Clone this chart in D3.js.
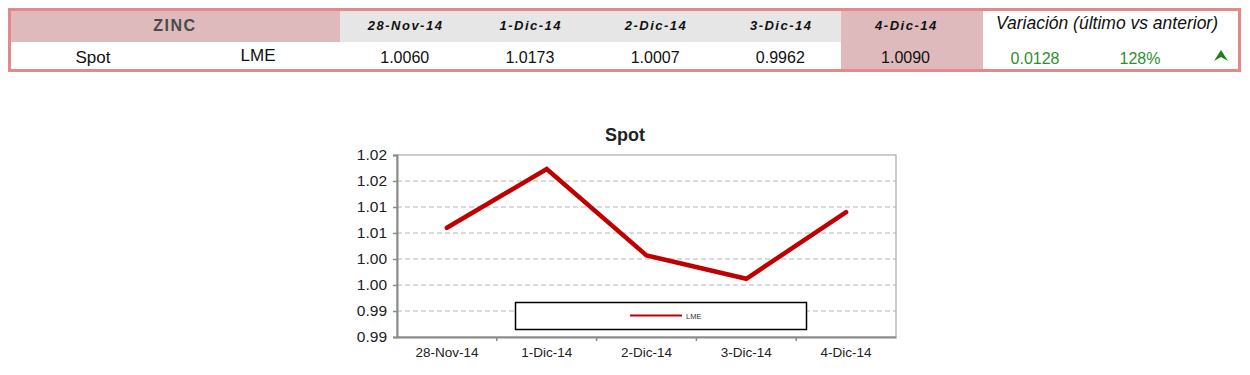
<!DOCTYPE html>
<html lang="es">
  <head>
    <meta charset="UTF-8" />
    <title>Zinc Spot</title>
    <style>
      body { margin: 0; background: #fff; }
      svg { display: block; font-family: "Liberation Sans", Arial, sans-serif; }
    </style>
    <script src="https://d3js.org/d3.v7.min.js"></script>
  </head>
  <body>
    <svg width="1250" height="375"></svg>
    <script>
      // data
      var metal = "ZINC";
      var rowLabel = "Spot";
      var market = "LME";
      var dates = ["28-Nov-14", "1-Dic-14", "2-Dic-14", "3-Dic-14", "4-Dic-14"];
      var values = [1.006, 1.0173, 1.0007, 0.9962, 1.009];
      var variationAbs = "0.0128";
      var variationPct = "128%";
      var yTicks = [0.985, 0.99, 0.995, 1.0, 1.005, 1.01, 1.015, 1.02];
      var yTickLabels = ["0.99", "0.99", "1.00", "1.00", "1.01", "1.01", "1.02", "1.02"];

      window.onload = function () {
        var svg = d3.select("svg");
        var pink = "#dfbabd";
        var border = "#e08a8a";
        var green = "#2f8f2f";

        // ---- table ----
        var tbl = svg.append("g");
        tbl.append("rect").attr("x", 10).attr("y", 10).attr("width", 330).attr("height", 32).attr("fill", pink);
        tbl.append("rect").attr("x", 340).attr("y", 10).attr("width", 501).attr("height", 32).attr("fill", "#e6e6e6");
        tbl.append("rect").attr("x", 841).attr("y", 10).attr("width", 142).attr("height", 60).attr("fill", pink);
        tbl.append("rect").attr("x", 9.5).attr("y", 9.5).attr("width", 1230).attr("height", 61)
          .attr("fill", "none").attr("stroke", border).attr("stroke-width", 3);

        tbl.append("text").attr("x", 175).attr("y", 31).attr("text-anchor", "middle")
          .attr("font-size", 16).attr("font-weight", "bold").attr("fill", "#4a4a4a")
          .attr("letter-spacing", 1.5).text(metal);

        var colX = d3.scaleBand().domain(dates).range([340, 966]);
        tbl.selectAll(".hd").data(dates).join("text")
          .attr("x", (d) => colX(d) + colX.bandwidth() / 2 + 3)
          .attr("y", 30).attr("text-anchor", "middle")
          .attr("font-size", 13).attr("font-weight", "bold").attr("font-style", "italic")
          .attr("letter-spacing", 1.5).attr("fill", "#111").text((d) => d);
        tbl.selectAll(".val").data(values).join("text")
          .attr("x", (d, i) => colX(dates[i]) + colX.bandwidth() - 36)
          .attr("y", 63).attr("text-anchor", "end")
          .attr("font-size", 16).attr("fill", "#111")
          .text((d) => d.toFixed(4));

        tbl.append("text").attr("x", 93).attr("y", 63).attr("text-anchor", "middle")
          .attr("font-size", 17).attr("fill", "#111").text(rowLabel);
        tbl.append("text").attr("x", 258).attr("y", 61).attr("text-anchor", "middle")
          .attr("font-size", 17).attr("fill", "#111").text(market);
        tbl.append("text").attr("x", 1107).attr("y", 29).attr("text-anchor", "middle")
          .attr("font-size", 17.5).attr("font-style", "italic").attr("fill", "#111")
          .text("Variación (último vs anterior)");
        tbl.append("text").attr("x", 1035).attr("y", 64).attr("text-anchor", "middle")
          .attr("font-size", 16).attr("fill", green).text(variationAbs);
        tbl.append("text").attr("x", 1140).attr("y", 64).attr("text-anchor", "middle")
          .attr("font-size", 16).attr("fill", green).text(variationPct);
        tbl.append("path").attr("d", "M1221,50 L1228,61 L1221,57 L1214,61 Z").attr("fill", "#1f7f1f");

        // ---- chart ----
        var pl = 397, pr = 896, pt = 155, pb = 337;
        var x = d3.scaleBand().domain(dates).range([pl, pr]);
        var y = d3.scaleLinear().domain([0.985, 1.02]).range([pb, pt]);

        svg.append("text").attr("x", 625).attr("y", 141).attr("text-anchor", "middle")
          .attr("font-size", 18).attr("font-weight", "bold").attr("fill", "#222").text("Spot");

        // grid
        svg.append("g").selectAll("line").data(yTicks.slice(1, -1)).join("line")
          .attr("x1", pl).attr("x2", pr)
          .attr("y1", (d) => y(d)).attr("y2", (d) => y(d))
          .attr("stroke", "#b4b4b4").attr("stroke-dasharray", "5,3");
        svg.append("rect").attr("x", pl).attr("y", pt).attr("width", pr - pl).attr("height", pb - pt)
          .attr("fill", "none").attr("stroke", "#999").attr("stroke-width", 1);

        // y axis
        var yAxis = d3.axisLeft(y).tickValues(yTicks).tickSize(4).tickPadding(6)
          .tickFormat((d, i) => yTickLabels[i]);
        var gy = svg.append("g").attr("transform", "translate(" + pl + ",0)").call(yAxis);
        gy.select(".domain").attr("stroke", "#8a8a8a").attr("stroke-width", 2);
        gy.selectAll(".tick line").attr("stroke", "#8a8a8a").attr("stroke-width", 1.5);
        gy.selectAll("text").attr("font-size", 15.5).attr("fill", "#222")
          .attr("font-family", "Liberation Sans, Arial, sans-serif");

        // x axis
        var xAxis = d3.axisBottom(x).tickSize(0).tickPadding(10);
        var gx = svg.append("g").attr("transform", "translate(0," + pb + ")").call(xAxis);
        gx.select(".domain").attr("stroke", "#8a8a8a").attr("stroke-width", 2);
        gx.selectAll("text").attr("font-size", 13.5).attr("fill", "#222")
          .attr("font-family", "Liberation Sans, Arial, sans-serif");
        svg.append("g").selectAll("line").data(dates.slice(1)).join("line")
          .attr("x1", (d) => x(d)).attr("x2", (d) => x(d))
          .attr("y1", pb).attr("y2", pb + 4)
          .attr("stroke", "#8a8a8a").attr("stroke-width", 1.5);

        // line
        var line = d3.line()
          .x((d, i) => x(dates[i]) + x.bandwidth() / 2)
          .y((d) => y(d));
        svg.append("path").attr("d", line(values))
          .attr("fill", "none").attr("stroke", "#c00000").attr("stroke-width", 4.5)
          .attr("stroke-linejoin", "miter").attr("stroke-linecap", "round");

        // legend
        svg.append("rect").attr("x", 515.5).attr("y", 302.5).attr("width", 291).attr("height", 27)
          .attr("fill", "#fff").attr("stroke", "#000").attr("stroke-width", 1.5);
        svg.append("line").attr("x1", 630).attr("x2", 682).attr("y1", 315.5).attr("y2", 315.5)
          .attr("stroke", "#c00000").attr("stroke-width", 2);
        svg.append("text").attr("x", 686).attr("y", 318.5).attr("font-size", 7.5).attr("fill", "#333").text(market);
      };
    </script>
  </body>
</html>
